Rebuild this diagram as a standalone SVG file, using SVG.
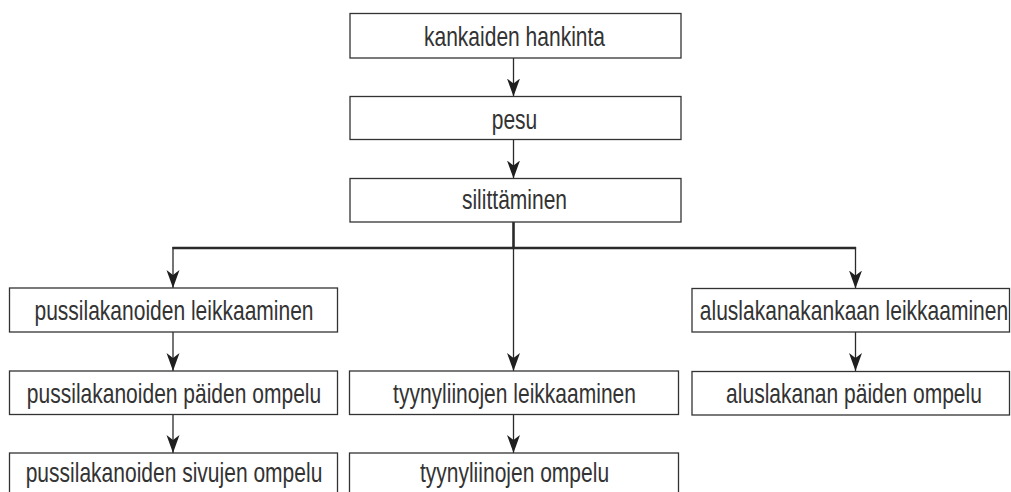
<svg xmlns="http://www.w3.org/2000/svg" width="1011" height="492" viewBox="0 0 1011 492">
<defs>
<style>
.box{fill:#fff;stroke:#333;stroke-width:1.3}
.t{font-family:"Liberation Sans",Arial,sans-serif;font-size:27.5px;fill:#333;text-anchor:middle}
.ca{fill:none;stroke:#2a2a2a;stroke-width:1.3;marker-end:url(#ah)}
.thick{fill:none;stroke:#2a2a2a;stroke-width:2.6}
</style>
<marker id="ah" markerUnits="userSpaceOnUse" viewBox="-18 -7 18 14" refX="0" refY="0" markerWidth="18" markerHeight="14" orient="auto">
<path d="M0,0 L-18,-6.5 L-13,0 L-18,6.5 Z" fill="#1f1f1f"/>
</marker>
</defs>
<rect width="1011" height="492" fill="#fff"/>
<g id="connectors">
<line class="ca" x1="513.5" y1="58" x2="513.5" y2="96.5"/>
<line class="ca" x1="513.5" y1="139.5" x2="513.5" y2="178.5"/>
<line class="thick" x1="513.5" y1="222" x2="513.5" y2="248"/>
<line class="thick" x1="172.4" y1="248" x2="856.1" y2="248"/>
<line class="ca" x1="173" y1="247" x2="173" y2="288"/>
<line class="ca" x1="513.5" y1="247" x2="513.5" y2="371"/>
<line class="ca" x1="855.5" y1="247" x2="855.5" y2="288.5"/>
<line class="ca" x1="173" y1="332" x2="173" y2="371"/>
<line class="ca" x1="173" y1="414" x2="173" y2="453"/>
<line class="ca" x1="513.5" y1="414" x2="513.5" y2="453"/>
<line class="ca" x1="855.5" y1="332" x2="855.5" y2="371"/>
</g>
<g id="n1"><rect class="box" x="350" y="13.5" width="331" height="44.5"/><text class="t" transform="translate(514.5,46) scale(0.764,1)">kankaiden hankinta</text></g>
<g id="n2"><rect class="box" x="350" y="96.5" width="331" height="43"/><text class="t" transform="translate(514.5,128.5) scale(0.764,1)">pesu</text></g>
<g id="n3"><rect class="box" x="350" y="178.5" width="331" height="43.5"/><text class="t" transform="translate(514.5,209) scale(0.764,1)">silittäminen</text></g>
<g id="n4"><rect class="box" x="9.5" y="288" width="328" height="44"/><text class="t" transform="translate(174,319.5) scale(0.764,1)">pussilakanoiden leikkaaminen</text></g>
<g id="n5"><rect class="box" x="9.5" y="371" width="328" height="43.5"/><text class="t" transform="translate(174,402.5) scale(0.764,1)">pussilakanoiden päiden ompelu</text></g>
<g id="n6"><rect class="box" x="9.5" y="453" width="328" height="46"/><text class="t" transform="translate(174,482) scale(0.764,1)">pussilakanoiden sivujen ompelu</text></g>
<g id="n7"><rect class="box" x="349.5" y="371" width="329" height="43.5"/><text class="t" transform="translate(514.5,402.5) scale(0.764,1)">tyynyliinojen leikkaaminen</text></g>
<g id="n8"><rect class="box" x="349.5" y="453" width="329" height="46"/><text class="t" transform="translate(514.5,482) scale(0.764,1)">tyynyliinojen ompelu</text></g>
<g id="n9"><rect class="box" x="692" y="288.5" width="317.5" height="43.5"/><text class="t" transform="translate(854,319.5) scale(0.764,1)">aluslakanakankaan leikkaaminen</text></g>
<g id="n10"><rect class="box" x="692" y="371.5" width="317.5" height="43.5"/><text class="t" transform="translate(854,402.5) scale(0.764,1)">aluslakanan päiden ompelu</text></g>
</svg>
